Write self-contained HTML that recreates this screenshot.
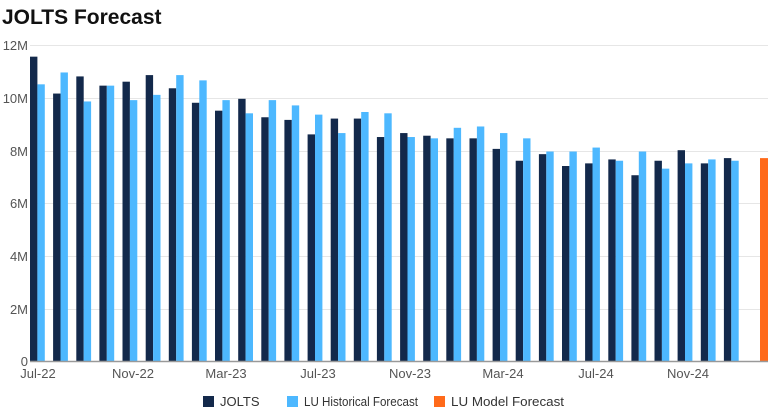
<!DOCTYPE html>
<html><head><style>
body{margin:0;background:#fff;font-family:"Liberation Sans",sans-serif}
</style></head><body>
<svg width="768" height="415" xmlns="http://www.w3.org/2000/svg" font-family="Liberation Sans, sans-serif">
<rect width="768" height="415" fill="#fff"/>
<text x="2" y="24" font-size="21" font-weight="bold" fill="#111">JOLTS Forecast</text>
<g stroke="#e6e6e6" stroke-width="1">
<line x1="30" x2="768" y1="45.5" y2="45.5"/><line x1="30" x2="768" y1="98.5" y2="98.5"/><line x1="30" x2="768" y1="151.5" y2="151.5"/><line x1="30" x2="768" y1="203.5" y2="203.5"/><line x1="30" x2="768" y1="256.5" y2="256.5"/><line x1="30" x2="768" y1="309.5" y2="309.5"/>
</g>
<g font-size="13" fill="#555" text-anchor="end">
<text x="28" y="50">12M</text><text x="28" y="103">10M</text><text x="28" y="156">8M</text><text x="28" y="208">6M</text><text x="28" y="261">4M</text><text x="28" y="314">2M</text><text x="28" y="366">0</text>
</g>
<g transform="translate(0,361) scale(1,-26.35)">
<g fill="#13294b">
<rect x="30.0" y="0" width="7.4" height="11.55"/>
<rect x="53.1" y="0" width="7.4" height="10.15"/>
<rect x="76.3" y="0" width="7.4" height="10.8"/>
<rect x="99.4" y="0" width="7.4" height="10.45"/>
<rect x="122.5" y="0" width="7.4" height="10.6"/>
<rect x="145.7" y="0" width="7.4" height="10.85"/>
<rect x="168.8" y="0" width="7.4" height="10.35"/>
<rect x="191.9" y="0" width="7.4" height="9.8"/>
<rect x="215.0" y="0" width="7.4" height="9.5"/>
<rect x="238.2" y="0" width="7.4" height="9.95"/>
<rect x="261.3" y="0" width="7.4" height="9.25"/>
<rect x="284.4" y="0" width="7.4" height="9.15"/>
<rect x="307.6" y="0" width="7.4" height="8.6"/>
<rect x="330.7" y="0" width="7.4" height="9.2"/>
<rect x="353.8" y="0" width="7.4" height="9.2"/>
<rect x="376.9" y="0" width="7.4" height="8.5"/>
<rect x="400.1" y="0" width="7.4" height="8.65"/>
<rect x="423.2" y="0" width="7.4" height="8.55"/>
<rect x="446.3" y="0" width="7.4" height="8.45"/>
<rect x="469.5" y="0" width="7.4" height="8.45"/>
<rect x="492.6" y="0" width="7.4" height="8.05"/>
<rect x="515.7" y="0" width="7.4" height="7.6"/>
<rect x="538.9" y="0" width="7.4" height="7.85"/>
<rect x="562.0" y="0" width="7.4" height="7.4"/>
<rect x="585.1" y="0" width="7.4" height="7.5"/>
<rect x="608.3" y="0" width="7.4" height="7.65"/>
<rect x="631.4" y="0" width="7.4" height="7.05"/>
<rect x="654.5" y="0" width="7.4" height="7.6"/>
<rect x="677.6" y="0" width="7.4" height="8.0"/>
<rect x="700.8" y="0" width="7.4" height="7.5"/>
<rect x="723.9" y="0" width="7.4" height="7.7"/>
</g>
<g fill="#4db8ff">
<rect x="37.4" y="0" width="7.4" height="10.5"/>
<rect x="60.5" y="0" width="7.4" height="10.95"/>
<rect x="83.7" y="0" width="7.4" height="9.85"/>
<rect x="106.8" y="0" width="7.4" height="10.45"/>
<rect x="129.9" y="0" width="7.4" height="9.9"/>
<rect x="153.1" y="0" width="7.4" height="10.1"/>
<rect x="176.2" y="0" width="7.4" height="10.85"/>
<rect x="199.3" y="0" width="7.4" height="10.65"/>
<rect x="222.4" y="0" width="7.4" height="9.9"/>
<rect x="245.6" y="0" width="7.4" height="9.4"/>
<rect x="268.7" y="0" width="7.4" height="9.9"/>
<rect x="291.8" y="0" width="7.4" height="9.7"/>
<rect x="315.0" y="0" width="7.4" height="9.35"/>
<rect x="338.1" y="0" width="7.4" height="8.65"/>
<rect x="361.2" y="0" width="7.4" height="9.45"/>
<rect x="384.3" y="0" width="7.4" height="9.4"/>
<rect x="407.5" y="0" width="7.4" height="8.5"/>
<rect x="430.6" y="0" width="7.4" height="8.45"/>
<rect x="453.7" y="0" width="7.4" height="8.85"/>
<rect x="476.9" y="0" width="7.4" height="8.9"/>
<rect x="500.0" y="0" width="7.4" height="8.65"/>
<rect x="523.1" y="0" width="7.4" height="8.45"/>
<rect x="546.3" y="0" width="7.4" height="7.95"/>
<rect x="569.4" y="0" width="7.4" height="7.95"/>
<rect x="592.5" y="0" width="7.4" height="8.1"/>
<rect x="615.7" y="0" width="7.4" height="7.6"/>
<rect x="638.8" y="0" width="7.4" height="7.95"/>
<rect x="661.9" y="0" width="7.4" height="7.3"/>
<rect x="685.0" y="0" width="7.4" height="7.5"/>
<rect x="708.2" y="0" width="7.4" height="7.65"/>
<rect x="731.3" y="0" width="7.4" height="7.6"/>
</g>
<rect x="760" y="0" width="8" height="7.7" fill="#ff6a1a"/>
</g>
<line x1="30" x2="768" y1="361.5" y2="361.5" stroke="#999" stroke-width="1.5"/>
<g font-size="13" fill="#555" text-anchor="middle">
<text x="38" y="378">Jul-22</text><text x="133" y="378">Nov-22</text><text x="226" y="378">Mar-23</text><text x="318" y="378">Jul-23</text><text x="410" y="378">Nov-23</text><text x="503" y="378">Mar-24</text><text x="596" y="378">Jul-24</text><text x="688" y="378">Nov-24</text>
</g>
<rect x="203" y="396" width="11" height="11" fill="#13294b"/><text x="220" y="406" font-size="13" fill="#333">JOLTS</text>
<rect x="287" y="396" width="11" height="11" fill="#4db8ff"/><text x="304" y="406" font-size="13" fill="#333" textLength="114" lengthAdjust="spacingAndGlyphs">LU Historical Forecast</text>
<rect x="434" y="396" width="11" height="11" fill="#ff6a1a"/><text x="451" y="406" font-size="13" fill="#333" textLength="113" lengthAdjust="spacingAndGlyphs">LU Model Forecast</text>
</svg>
</body></html>
